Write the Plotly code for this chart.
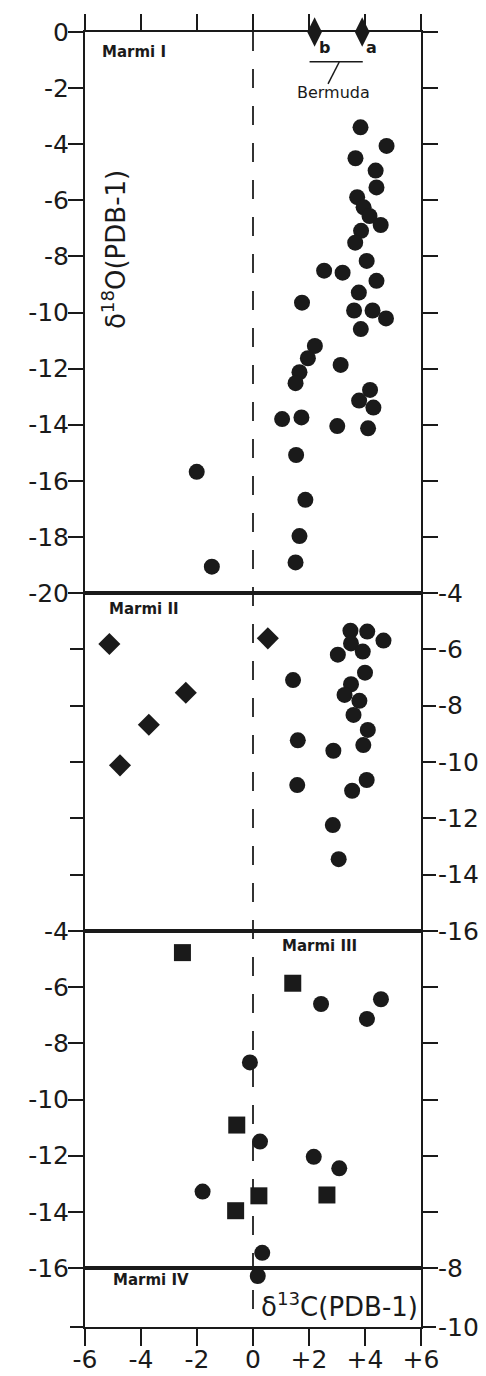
import plotly.graph_objects as go

# ---------------- data ----------------
# Marmi I (delta13C, delta18O)
m1_circle_x = [3.84, 4.77, 3.66, 4.38, 4.41, 3.72, 3.95, 4.16, 4.56, 3.86, 3.65, 4.06, 2.54, 3.20,
               4.41, 3.78, 1.75, 3.61, 4.27, 4.75, 3.85, 2.21, 1.96, 1.66, 1.52, 3.13, 4.18, 3.79,
               4.30, 1.04, 1.73, 3.01, 4.11, 1.54, 1.87, 1.66, 1.52, -2.01, -1.47]
m1_circle_y = [-3.40, -4.06, -4.50, -4.94, -5.54, -5.89, -6.25, -6.56, -6.88, -7.09, -7.51, -8.16, -8.51, -8.58,
               -8.87, -9.29, -9.65, -9.93, -9.93, -10.21, -10.59, -11.19, -11.63, -12.13, -12.52, -11.87, -12.76, -13.14,
               -13.39, -13.80, -13.74, -14.05, -14.13, -15.08, -16.68, -17.97, -18.91, -15.68, -19.06]
# Bermuda reference points (b, a)
bermuda_x = [2.2, 3.9]
bermuda_y = [0.0, 0.0]
bermuda_labels = ["b", "a"]

# Marmi II
m2_diamond_x = [-5.13, -2.40, -3.72, -4.75, 0.53]
m2_diamond_y = [-5.81, -7.54, -8.68, -10.12, -5.61]
m2_circle_x = [3.48, 4.08, 4.66, 3.50, 3.92, 3.03, 1.43, 4.00, 3.50, 3.27, 3.80, 3.59, 4.10, 1.60,
               3.94, 2.87, 4.06, 1.58, 3.54, 2.85, 3.06]
m2_circle_y = [-5.34, -5.37, -5.69, -5.79, -6.08, -6.19, -7.09, -6.83, -7.24, -7.62, -7.83, -8.33, -8.86, -9.23,
               -9.40, -9.60, -10.64, -10.82, -11.02, -12.24, -13.45]

# Marmi III
m3_square_x = [-2.52, 1.42, -0.58, 0.21, 2.64, -0.62]
m3_square_y = [-4.77, -5.86, -10.91, -13.43, -13.40, -13.96]
m3_circle_x = [2.43, 4.57, 4.07, -0.11, 0.25, 2.17, 3.08, -1.80, 0.33]
m3_circle_y = [-6.60, -6.43, -7.13, -8.68, -11.50, -12.04, -12.45, -13.28, -15.46]

# Marmi IV
m4_circle_x = [0.17]
m4_circle_y = [-8.27]

# ticks
x_tickvals = [-6, -4, -2, 0, 2, 4, 6]
x_ticktext = ["-6", "-4", "-2", "0", "+2", "+4", "+6"]
y1_tickvals = [0, -2, -4, -6, -8, -10, -12, -14, -16, -18, -20]
y1_ticktext = ["0", "-2", "-4", "-6", "-8", "-10", "-12", "-14", "-16", "-18", "-20"]
y23_tickvals = [-4, -6, -8, -10, -12, -14, -16]
y23_ticktext = ["-4", "-6", "-8", "-10", "-12", "-14", "-16"]
y4_tickvals = [-8, -10]
y4_ticktext = ["-8", "-10"]

# ---------------- figure ----------------
INK = "#1a1a1a"
FONT = "DejaVu Sans"

fig = go.Figure()

def add(x, y, symbol, size, xa, ya):
    fig.add_trace(go.Scatter(
        x=x, y=y, mode="markers", xaxis=xa, yaxis=ya, cliponaxis=False,
        marker=dict(symbol=symbol, size=size, color=INK, line=dict(width=0)),
        hoverinfo="x+y", showlegend=False))

add(m1_circle_x, m1_circle_y, "circle", 16, "x", "y")
add(bermuda_x, bermuda_y, "diamond-tall", 21, "x", "y")
add(m2_diamond_x, m2_diamond_y, "diamond", 17, "x2", "y2")
add(m2_circle_x, m2_circle_y, "circle", 16, "x2", "y2")
add(m3_square_x, m3_square_y, "square", 17, "x3", "y3")
add(m3_circle_x, m3_circle_y, "circle", 16, "x3", "y3")
add(m4_circle_x, m4_circle_y, "circle", 16, "x4", "y4")

# panel domains (fractions of plot height, from bottom)
d4 = [0.0, 0.04556]
d3 = [0.04556, 0.30579]
d2 = [0.30579, 0.56680]
d1 = [0.56680, 1.0]

axis_common = dict(showgrid=False, zeroline=False, showline=True, linewidth=2,
                   linecolor=INK, tickcolor=INK, tickwidth=2, automargin=False,
                   fixedrange=True)
yfont = dict(family=FONT, size=25, color=INK)

layout = dict(
    width=486, height=1376,
    margin=dict(l=85, r=65, t=32, b=49, pad=0),
    paper_bgcolor="white", plot_bgcolor="white",
    showlegend=False,
    font=dict(family=FONT, color=INK),
    xaxis=dict(range=[-6, 6], anchor="y", side="top", ticks="outside", ticklen=16,
               tickvals=x_tickvals, showticklabels=False, mirror=True, **axis_common),
    xaxis2=dict(range=[-6, 6], anchor="y2", matches="x", ticks="", showticklabels=False,
                mirror=True, **axis_common),
    xaxis3=dict(range=[-6, 6], anchor="y3", matches="x", ticks="", showticklabels=False,
                mirror=True, **axis_common),
    xaxis4=dict(range=[-6, 6], anchor="y4", matches="x", side="bottom", ticks="outside",
                ticklen=17, tickvals=x_tickvals, ticktext=x_ticktext, mirror=True,
                ticklabelstandoff=-8,
                tickfont=dict(family=FONT, size=25, color=INK), **axis_common),
    yaxis=dict(domain=d1, range=[-20, 0], anchor="x", side="left", ticks="outside", ticklen=15,
               tickvals=y1_tickvals, ticktext=y1_ticktext, mirror="ticks", ticklabelstandoff=-6,
               tickfont=yfont, **axis_common),
    yaxis2=dict(domain=d2, range=[-16, -4], anchor="x2", side="right", ticks="outside", ticklen=13,
                tickvals=y23_tickvals, ticktext=y23_ticktext, mirror="ticks", ticklabelstandoff=-3,
                tickfont=yfont, **axis_common),
    yaxis3=dict(domain=d3, range=[-16, -4], anchor="x3", side="left", ticks="outside", ticklen=15,
                tickvals=y23_tickvals, ticktext=y23_ticktext, mirror="ticks", ticklabelstandoff=-6,
                tickfont=yfont, **axis_common),
    yaxis4=dict(domain=d4, range=[-10, -8], anchor="x4", side="right", ticks="outside", ticklen=13,
                tickvals=y4_tickvals, ticktext=y4_ticktext, mirror="ticks", ticklabelstandoff=-3,
                tickfont=yfont, **axis_common),
)
fig.update_layout(**layout)

# dashed zero line through all panels
fig.add_shape(type="line", xref="x", yref="paper", x0=0, x1=0, y0=1, y1=0,
              line=dict(color="#333333", width=2, dash="19px,18px"), layer="below")

# Bermuda bracket
fig.add_shape(type="line", xref="x", yref="y", x0=2.02, x1=3.92, y0=-1.06, y1=-1.06,
              line=dict(color=INK, width=1.5))
fig.add_shape(type="line", xref="x", yref="y", x0=3.08, x1=2.68, y0=-1.07, y1=-1.85,
              line=dict(color=INK, width=1.5))

def note(text, x, y, xa, ya, size, bold=False, xanchor="left", angle=0):
    fig.add_annotation(text=("<b>%s</b>" % text) if bold else text, x=x, y=y, xref=xa, yref=ya,
                       showarrow=False, xanchor=xanchor, yanchor="middle", textangle=angle,
                       font=dict(family=FONT, size=size, color=INK))

note("Marmi I", -5.47, -0.70, "x", "y", 15, bold=True)
note("Marmi II", -5.20, -4.57, "x2", "y2", 15, bold=True)
note("Marmi III", 0.95, -4.53, "x3", "y3", 15, bold=True)
note("Marmi IV", -5.07, -8.41, "x4", "y4", 15, bold=True)
note("Bermuda", 2.86, -2.16, "x", "y", 16, xanchor="center")
for lx, lab in zip([2.57, 4.24], bermuda_labels):
    note(lab, lx, -0.55, "x", "y", 16, bold=True, xanchor="center")
note("δ<sup>18</sup>O(PDB-1)", -4.96, -7.77, "x", "y", 26, xanchor="center", angle=-90)
note("δ<sup>13</sup>C(PDB-1)", 5.96, -9.25, "x4", "y4", 26, xanchor="right")

# remove the default 8px page margin so the figure sits at the window origin
fig.write_html("out.html", config={"displayModeBar": False},
               post_script="document.body.style.margin='0px';document.body.style.overflow='hidden';")
